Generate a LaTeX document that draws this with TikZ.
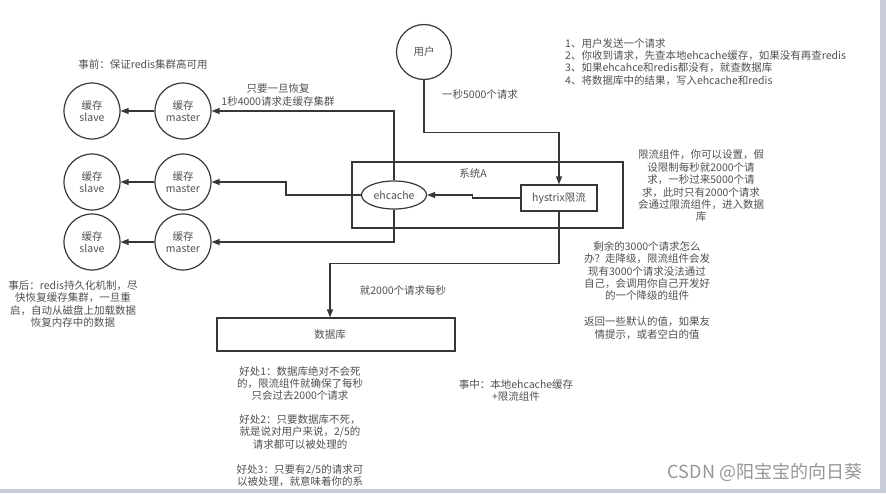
\documentclass[tikz,border=0pt]{standalone}
\usepackage{fontspec}
\setmainfont{Noto Sans CJK SC}
\usetikzlibrary{arrows.meta,shapes.geometric}

\definecolor{linegray}{RGB}{55,55,55}
\definecolor{textgray}{RGB}{80,80,80}
\definecolor{bargray}{RGB}{200,204,216}

\tikzset{
  every node/.style={text=textgray, font=\fontsize{10.5}{12.4}\selectfont},
  cachenode/.style={circle, draw=linegray, line width=1.2pt, minimum size=56pt, inner sep=0pt, align=center},
  boxnode/.style={rectangle, draw=linegray, line width=1.2pt, inner sep=0pt},
  link/.style={draw=linegray, line width=1.2pt, -{Triangle[length=8pt,width=6pt]}},
  plainlink/.style={draw=linegray, line width=1.2pt},
  note/.style={align=center, inner sep=0pt},
}

\begin{document}
\begin{tikzpicture}[x=1pt,y=-1pt]

            \useasboundingbox (0,0) rectangle (886,493);
            \fill[bargray] (880,0) rectangle (886,493);
            \fill[bargray] (0,489) rectangle (880,493);

            \node[boxnode, minimum width=271pt, minimum height=66pt] (sysA) at (487.5,195) {};
            \node[note] (sysAlabel) at (473,173) {系统A};

            \node[cachenode, minimum size=55pt] (user) at (424,52) {用户};
            \node[boxnode, minimum width=76pt, minimum height=26pt] (hystrix) at (559,198) {hystrix限流};
            \node[ellipse, draw=linegray, line width=1.2pt, minimum width=65pt, minimum height=28pt, inner sep=0pt] (ehcache) at (394,195) {ehcache};

            \node[cachenode] (master1) at (183,111) {缓存\\master};
            \node[cachenode] (slave1) at (92,111) {缓存\\slave};
            \node[cachenode] (master2) at (183,182) {缓存\\master};
            \node[cachenode] (slave2) at (92,182) {缓存\\slave};
            \node[cachenode] (master3) at (183,242) {缓存\\master};
            \node[cachenode] (slave3) at (92,242) {缓存\\slave};

            \node[boxnode, minimum width=238pt, minimum height=33pt] (db) at (336,334.5) {};
            \node[note] (dblabel) at (330,335) {数据库};

            \draw[link] (user.south) -- ++(0,52) -| (hystrix.north);
            \draw[link] (hystrix.west) -- ++(-48,0) |- (ehcache.east);
            \draw[link] (ehcache.north) |- (master1.east);
            \draw[link] (ehcache.west) -- ++(-75,0) |- (master2.east);
            \draw[link] (ehcache.south) |- (master3.east);
            \draw[link] (master1.west) -- (slave1.east);
            \draw[link] (master2.west) -- (slave2.east);
            \draw[link] (master3.west) -- (slave3.east);
            \draw[link] (hystrix.south) -- ++(0,52) -| ([xshift=-6pt]db.north);

            \node[note] (before) at (143,65) {事前：保证redis集群高可用};
            \node[note] (recover) at (278,95) {只要一旦恢复\\1秒4000请求走缓存集群};
            \node[note] (rate) at (480,95) {一秒5000个请求};
            \node[note] (persec) at (403,290) {就2000个请求每秒};

            \node[align=left, inner sep=0pt, anchor=north west] (steps) at (565,38) {1、用户发送一个请求\\2、你收到请求，先查本地ehcache缓存，如果没有再查redis\\3、如果ehcahce和redis都没有，就查数据库\\4、将数据库中的结果，写入ehcache和redis};

            \node[note] (limit) at (701,186) {限流组件，你可以设置，假\\设限制每秒就2000个请\\求，一秒过来5000个请\\求，此时只有2000个请求\\会通过限流组件，进入数据\\库};
            \node[note] (rest) at (647,271) {剩余的3000个请求怎么\\办？走降级，限流组件会发\\现有3000个请求没法通过\\自己，会调用你自己开发好\\的一个降级的组件};
            \node[note] (fallback) at (647,328) {返回一些默认的值，如果友\\情提示，或者空白的值};

            \node[note] (after) at (73,304) {事后：redis持久化机制，尽\\快恢复缓存集群，一旦重\\启，自动从磁盘上加载数据\\恢复内存中的数据};

            \node[note] (gain1) at (300,383.5) {好处1：数据库绝对不会死\\的，限流组件就确保了每秒\\只会过去2000个请求};
            \node[note] (gain2) at (300,432) {好处2：只要数据库不死，\\就是说对用户来说，2/5的\\请求都可以被处理的};
            \node[note] (gain3) at (300,475.5) {好处3：只要有2/5的请求可\\以被处理，就意味着你的系};

            \node[note] (during) at (516,390.5) {事中：本地ehcache缓存\\+限流组件};

            \node[inner sep=0pt, text={rgb,255:red,150;green,150;blue,150}, font=\fontsize{18}{20}\selectfont] (mark) at (765,472) {CSDN @阳宝宝的向日葵};

        \end{tikzpicture}
\end{document}
